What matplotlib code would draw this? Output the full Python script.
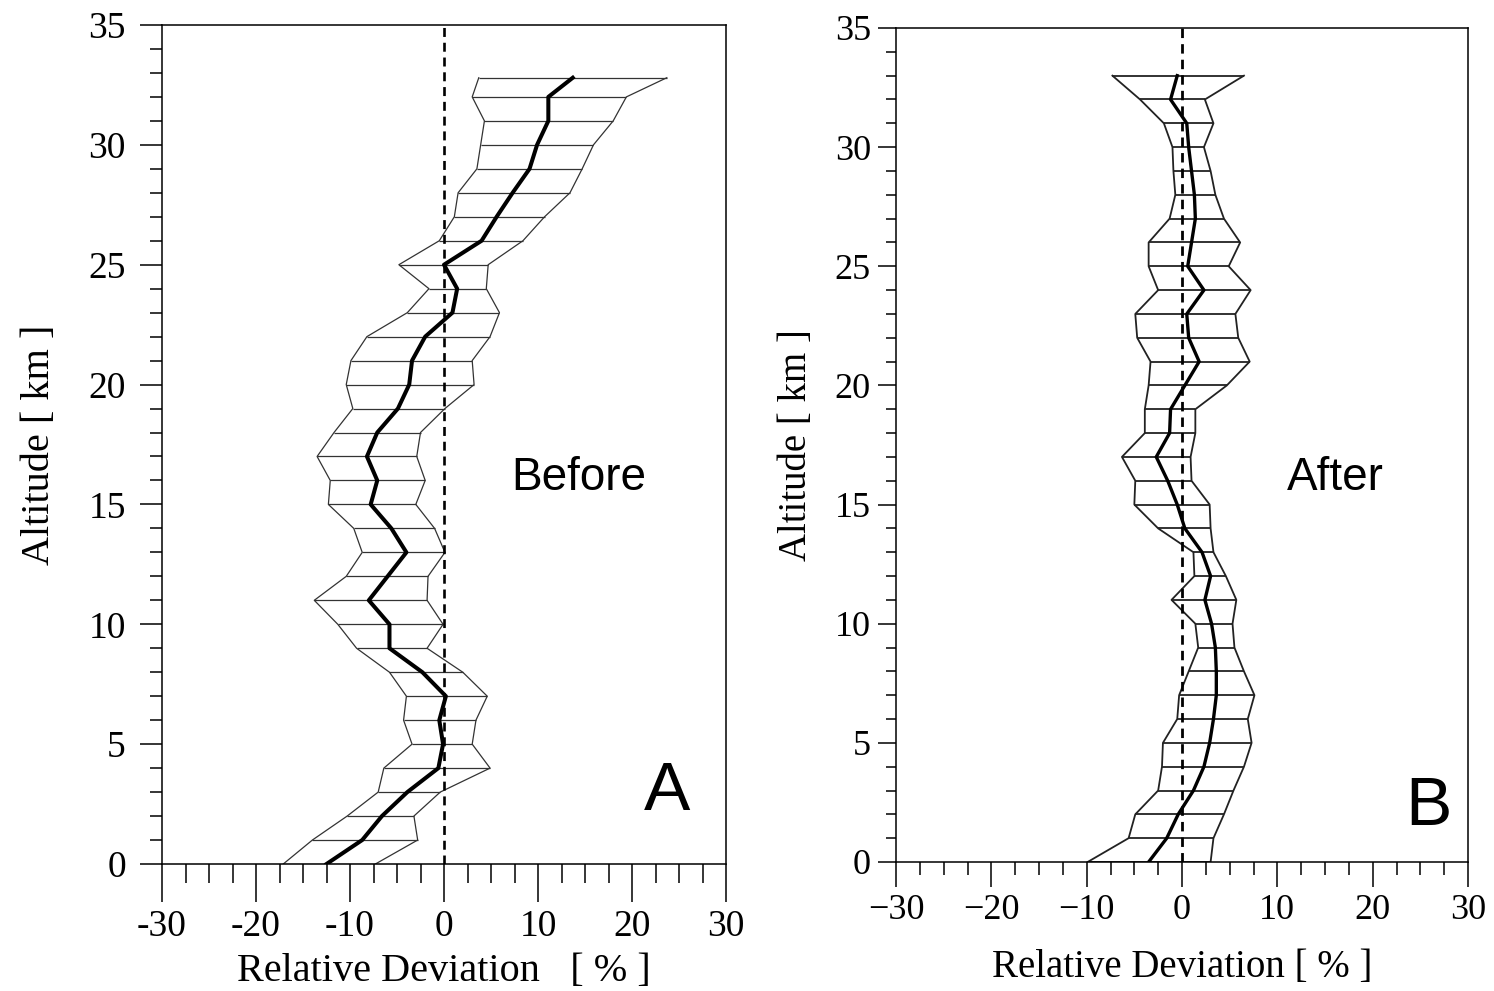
import matplotlib
matplotlib.use("Agg")
import matplotlib.pyplot as plt
from matplotlib.ticker import MultipleLocator, FixedLocator

# ---------------- data ----------------
alt_A = [0, 1, 2, 3, 4, 5, 6, 7, 8, 9, 10, 11, 12, 13, 14, 15, 16, 17, 18, 19,
         20, 21, 22, 23, 24, 25, 26, 27, 28, 29, 30, 31, 32, 32.8]
low_A = [-17.1, -14.0, -10.3, -7.0, -6.4, -3.4, -4.3, -4.0, -5.8, -9.3,
         -11.3, -13.8, -10.4, -8.7, -9.6, -12.3, -12.1, -13.5, -11.7, -9.7,
         -10.4, -9.9, -8.2, -3.9, -1.6, -4.8, -0.5, 1.1, 1.5, 3.5,
         3.9, 4.3, 3.0, 3.7]
mean_A = [-12.5, -8.7, -6.6, -3.9, -0.6, -0.1, -0.5, 0.2, -2.3, -5.8,
          -5.8, -8.0, -6.0, -4.0, -5.6, -7.8, -7.1, -8.2, -7.1, -4.9,
          -3.7, -3.4, -2.0, 0.9, 1.4, 0.0, 4.0, 5.6, 7.3, 9.1,
          9.9, 11.1, 11.1, 13.7]
high_A = [-7.3, -2.8, -3.2, -0.4, 4.9, 3.0, 3.4, 4.6, 2.0, -1.8,
          -0.1, -1.8, -1.7, 0.1, -1.0, -3.0, -2.0, -2.9, -2.5, 0.1,
          3.2, 3.0, 4.9, 5.9, 4.5, 4.7, 8.4, 10.7, 13.4, 14.7,
          15.9, 18.0, 19.4, 23.7]

alt_B = [0, 1, 2, 3, 4, 5, 6, 7, 8, 9, 10, 11, 12, 13, 14, 15, 16, 17, 18, 19,
         20, 21, 22, 23, 24, 25, 26, 27, 28, 29, 30, 31, 32, 33]
low_B = [-9.9, -5.6, -4.9, -2.5, -2.1, -2.0, -0.5, -0.3, 0.7, 1.7,
         1.4, -1.1, 1.3, 1.2, -2.5, -5.0, -4.9, -6.3, -3.9, -3.9,
         -3.5, -3.3, -4.7, -4.9, -2.5, -3.5, -3.5, -1.3, -0.7, -0.9,
         -1.0, -1.9, -4.4, -7.3]
mean_B = [-3.5, -1.6, -0.4, 1.2, 2.3, 2.9, 3.3, 3.6, 3.6, 3.5,
          3.1, 2.4, 3.0, 2.1, 0.3, -0.5, -1.5, -2.7, -1.3, -1.2,
          0.3, 1.8, 0.7, 0.5, 2.3, 0.6, 1.0, 1.4, 1.3, 1.0,
          0.7, 0.5, -1.2, -0.5]
high_B = [3.0, 3.3, 4.4, 5.4, 6.5, 7.3, 6.9, 7.6, 6.5, 5.5,
          5.3, 5.7, 4.6, 3.3, 3.0, 2.9, 1.0, 0.9, 1.4, 1.4,
          4.7, 7.1, 5.9, 5.6, 7.2, 4.9, 6.1, 4.4, 3.5, 3.0,
          2.3, 3.3, 2.4, 6.5]

xticks = [-30, -20, -10, 0, 10, 20, 30]
xticklabels_A = ['-30', '-20', '-10', '0', '10', '20', '30']
xticklabels_B = ['\u221230', '\u221220', '\u221210', '0', '10', '20', '30']
yticks = [0, 5, 10, 15, 20, 25, 30, 35]
yticklabels = ['0', '5', '10', '15', '20', '25', '30', '35']
xlabel = 'Relative Deviation   [ % ]'
xlabel_B = 'Relative Deviation [ % ]'
ylabel = 'Altitude [ km ]'

# ---------------- figure ----------------
W, H = 1494, 991
fig = plt.figure(figsize=(W / 100, H / 100), dpi=100)
serif = 'Liberation Serif'
sans = 'Liberation Sans'


def px_ax(x0, y0, x1, y1):
    return fig.add_axes([x0 / W, 1 - y1 / H, (x1 - x0) / W, (y1 - y0) / H])


def panel(ax, alt, lo, mn, hi, thin_lw, thin_col, mean_lw, dash_lw,
          xtl, xl, tick_fs, lab_fs, xmaj, xmin, ymaj, ymin, xpad, ypad,
          xlpad, ylpad):
    ax.hlines(alt, lo, hi, colors=thin_col, lw=thin_lw, zorder=2)
    ax.plot(lo, alt, color=thin_col, lw=thin_lw, zorder=2)
    ax.plot(hi, alt, color=thin_col, lw=thin_lw, zorder=2)
    ax.axvline(0, color='black', lw=dash_lw, ls=(0, (3.4, 2.2)), zorder=3)
    ax.plot(mn, alt, color='black', lw=mean_lw, zorder=4,
            solid_joinstyle='round')
    ax.set_xlim(-30, 30)
    ax.set_ylim(0, 35)
    ax.xaxis.set_major_locator(FixedLocator(xticks))
    ax.set_xticklabels(xtl, family=serif, fontsize=tick_fs)
    ax.yaxis.set_major_locator(FixedLocator(yticks))
    ax.set_yticklabels(yticklabels, family=serif, fontsize=tick_fs)
    ax.xaxis.set_minor_locator(MultipleLocator(2.5))
    ax.yaxis.set_minor_locator(MultipleLocator(1))
    ax.tick_params(axis='x', which='major', direction='out', length=xmaj,
                   width=1.1, pad=xpad)
    ax.tick_params(axis='x', which='minor', direction='out', length=xmin,
                   width=1.1)
    ax.tick_params(axis='y', which='major', direction='out', length=ymaj,
                   width=1.1, pad=ypad)
    ax.tick_params(axis='y', which='minor', direction='out', length=ymin,
                   width=1.1)
    for s in ax.spines.values():
        s.set_linewidth(1.1)
    ax.set_xlabel(xl, family=serif, fontsize=lab_fs, labelpad=xlpad)
    ax.set_ylabel(ylabel, family=serif, fontsize=lab_fs, labelpad=ylpad)


axA = px_ax(162, 25, 726, 864)
panel(axA, alt_A, low_A, mean_A, high_A, thin_lw=0.9, thin_col='#333333',
      mean_lw=2.9, dash_lw=1.9, xtl=xticklabels_A, xl=xlabel,
      tick_fs=27, lab_fs=29, xmaj=27, xmin=14, ymaj=16, ymin=9,
      xpad=6, ypad=10, xlpad=6, ylpad=22)
axA.text(7.2, 16.1, 'Before', family=sans, fontsize=33, va='center',
         ha='left')
axA.text(21.3, 3.0, 'A', family=sans, fontsize=50, va='center', ha='left')

axB = px_ax(896, 28, 1468, 862)
panel(axB, alt_B, low_B, mean_B, high_B, thin_lw=1.3, thin_col='#222222',
      mean_lw=2.4, dash_lw=2.0, xtl=xticklabels_B, xl=xlabel_B,
      tick_fs=26, lab_fs=28, xmaj=18, xmin=9, ymaj=13, ymin=7,
      xpad=5, ypad=5, xlpad=16, ylpad=14)
axB.text(11.0, 16.1, 'After', family=sans, fontsize=33, va='center',
         ha='left')
axB.text(23.4, 2.3, 'B', family=sans, fontsize=50, va='center', ha='left')

fig.savefig('out.png', dpi=100)
